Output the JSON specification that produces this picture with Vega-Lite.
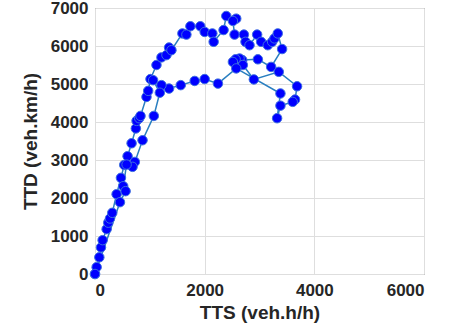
{
  "$schema": "https://vega.github.io/schema/vega-lite/v6.json",
  "autosize": "none",
  "width": 329,
  "height": 266,
  "padding": {"left": 95, "top": 8, "right": 26, "bottom": 54},
  "background": "white",
  "config": {
    "view": {"stroke": "#5a5a5a", "strokeWidth": 1},
    "font": "Liberation Sans",
    "axis": {
      "labelFont": "Liberation Sans",
      "labelFontWeight": "bold",
      "labelFontSize": 17,
      "labelColor": "#262626",
      "titleFont": "Liberation Sans",
      "titleFontWeight": "bold",
      "titleFontSize": 19,
      "titleColor": "#262626",
      "gridColor": "#dedede",
      "gridWidth": 1,
      "domain": false,
      "ticks": false,
      "format": "d"
    }
  },
  "data": {
    "values": [
      {"t": 1, "x": 0, "y": 0},
      {"t": 2, "x": 30, "y": 180},
      {"t": 3, "x": 79, "y": 440},
      {"t": 4, "x": 109, "y": 700},
      {"t": 5, "x": 139, "y": 890},
      {"t": 6, "x": 212, "y": 1180},
      {"t": 7, "x": 242, "y": 1350},
      {"t": 8, "x": 273, "y": 1460},
      {"t": 9, "x": 315, "y": 1610},
      {"t": 10, "x": 394, "y": 2100},
      {"t": 11, "x": 473, "y": 2530},
      {"t": 12, "x": 533, "y": 2870},
      {"t": 13, "x": 594, "y": 3100},
      {"t": 14, "x": 667, "y": 3440},
      {"t": 15, "x": 745, "y": 3830},
      {"t": 16, "x": 758, "y": 4030},
      {"t": 17, "x": 806, "y": 4100},
      {"t": 18, "x": 830, "y": 4160},
      {"t": 19, "x": 939, "y": 4660},
      {"t": 20, "x": 970, "y": 4820},
      {"t": 21, "x": 1012, "y": 5130},
      {"t": 22, "x": 1121, "y": 5500},
      {"t": 23, "x": 1212, "y": 5700},
      {"t": 24, "x": 1303, "y": 5760},
      {"t": 25, "x": 1351, "y": 5960},
      {"t": 26, "x": 1394, "y": 5890},
      {"t": 27, "x": 1594, "y": 6330},
      {"t": 28, "x": 1667, "y": 6300},
      {"t": 29, "x": 1740, "y": 6520},
      {"t": 30, "x": 1921, "y": 6520},
      {"t": 31, "x": 2000, "y": 6370},
      {"t": 32, "x": 2140, "y": 6330},
      {"t": 33, "x": 2164, "y": 6110},
      {"t": 34, "x": 2345, "y": 6420},
      {"t": 35, "x": 2394, "y": 6790},
      {"t": 36, "x": 2576, "y": 6720},
      {"t": 37, "x": 2515, "y": 6660},
      {"t": 38, "x": 2545, "y": 6300},
      {"t": 39, "x": 2715, "y": 6300},
      {"t": 40, "x": 2745, "y": 6110},
      {"t": 41, "x": 2818, "y": 6020},
      {"t": 42, "x": 2957, "y": 6300},
      {"t": 43, "x": 3030, "y": 6110},
      {"t": 44, "x": 3151, "y": 6020},
      {"t": 45, "x": 3230, "y": 6110},
      {"t": 46, "x": 3273, "y": 6200},
      {"t": 47, "x": 3333, "y": 6330},
      {"t": 48, "x": 3412, "y": 5920},
      {"t": 49, "x": 3212, "y": 5450},
      {"t": 50, "x": 2970, "y": 5650},
      {"t": 51, "x": 2685, "y": 5630},
      {"t": 52, "x": 2636, "y": 5670},
      {"t": 53, "x": 2564, "y": 5650},
      {"t": 54, "x": 2515, "y": 5580},
      {"t": 55, "x": 2697, "y": 5500},
      {"t": 56, "x": 2897, "y": 5120},
      {"t": 57, "x": 3352, "y": 5320},
      {"t": 58, "x": 3685, "y": 4940},
      {"t": 59, "x": 3648, "y": 4590},
      {"t": 60, "x": 3606, "y": 4530},
      {"t": 61, "x": 3382, "y": 4430},
      {"t": 62, "x": 3321, "y": 4100},
      {"t": 63, "x": 3382, "y": 4750},
      {"t": 64, "x": 2576, "y": 5410},
      {"t": 65, "x": 2242, "y": 5010},
      {"t": 66, "x": 2000, "y": 5130},
      {"t": 67, "x": 1818, "y": 5080},
      {"t": 68, "x": 1564, "y": 4970},
      {"t": 69, "x": 1351, "y": 4880},
      {"t": 70, "x": 1212, "y": 4970},
      {"t": 71, "x": 1060, "y": 5100},
      {"t": 72, "x": 1182, "y": 4770},
      {"t": 73, "x": 1073, "y": 4160},
      {"t": 74, "x": 867, "y": 3520},
      {"t": 75, "x": 727, "y": 2950},
      {"t": 76, "x": 685, "y": 2820},
      {"t": 77, "x": 576, "y": 2880},
      {"t": 78, "x": 515, "y": 2310},
      {"t": 79, "x": 558, "y": 2180},
      {"t": 80, "x": 455, "y": 1890},
      {"t": 81, "x": 0, "y": 0}
    ]
  },
  "encoding": {
    "x": {
      "field": "x", "type": "quantitative",
      "scale": {"domain": [0, 6000], "nice": false, "zero": false},
      "axis": {"title": "TTS (veh.h/h)", "values": [0, 2000, 4000, 6000], "labelPadding": 8, "titlePadding": 5}
    },
    "y": {
      "field": "y", "type": "quantitative",
      "scale": {"domain": [0, 7000], "nice": false, "zero": false},
      "axis": {"title": "TTD (veh.km/h)", "values": [0, 1000, 2000, 3000, 4000, 5000, 6000, 7000], "labelPadding": 7, "titlePadding": 10}
    },
    "order": {"field": "t", "type": "quantitative"}
  },
  "layer": [
    {"mark": {"type": "line", "color": "#2a7fc0", "strokeWidth": 1.5}},
    {"mark": {"type": "point", "shape": "circle", "filled": true, "fill": "#0000ff", "stroke": "#3d6fe0", "strokeWidth": 1, "size": 90, "opacity": 1}}
  ]
}
